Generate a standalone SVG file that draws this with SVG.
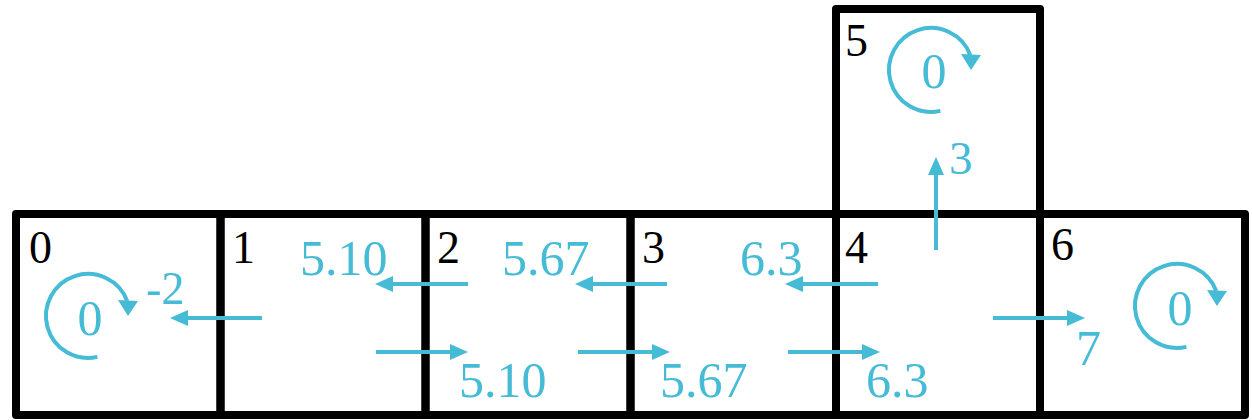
<svg xmlns="http://www.w3.org/2000/svg" width="1252" height="420" viewBox="0 0 1252 420">
<style>
.box{fill:none;stroke:#000;stroke-width:8;stroke-linejoin:round}
.num{font-family:"Liberation Serif",serif;font-size:46px;fill:#000}
.lbl{font-family:"Liberation Serif",serif;font-size:50px;fill:#45BBD6}
.ar{stroke:#45BBD6;stroke-width:4;fill:none;marker-end:url(#ah)}
.arc{stroke:#45BBD6;stroke-width:4;fill:none}
.hd{fill:#45BBD6}
</style>
<defs>
<marker id="ah" markerUnits="userSpaceOnUse" viewBox="0 0 18 16" refX="8" refY="8" markerWidth="18" markerHeight="16" orient="auto">
<path d="M0,0 L18,8 L0,16 Z" fill="#45BBD6"/>
</marker>
<g id="loop">
<path class="arc" d="M9.4,40.9 A42,42 0 1 1 39.2,-15"/>
<polygon class="hd" points="30,-16 50,-15 40,0"/>
</g>
</defs>
<rect width="1252" height="420" fill="#fff"/>
<g id="node0"><rect class="box" x="16" y="214" width="204.5" height="201"/><text class="num" x="29" y="263">0</text>
<use href="#loop" x="88" y="316"/><text class="lbl" x="90" y="335" text-anchor="middle">0</text></g>
<g id="node1"><rect class="box" x="220.5" y="214" width="205" height="201"/><text class="num" x="232" y="263">1</text></g>
<g id="node2"><rect class="box" x="425.5" y="214" width="205" height="201"/><text class="num" x="437" y="263">2</text></g>
<g id="node3"><rect class="box" x="630.5" y="214" width="205.5" height="201"/><text class="num" x="642" y="263">3</text></g>
<g id="node4"><rect class="box" x="836" y="214" width="204" height="201"/><text class="num" x="845" y="263">4</text></g>
<g id="node5"><rect class="box" x="836" y="9" width="204" height="205"/><text class="num" x="845" y="56">5</text>
<use href="#loop" x="931" y="70"/><text class="lbl" x="934" y="88" text-anchor="middle">0</text></g>
<g id="node6"><rect class="box" x="1040" y="214" width="205" height="201"/><text class="num" x="1051" y="260">6</text>
<use href="#loop" x="1177" y="306"/><text class="lbl" x="1180" y="325" text-anchor="middle">0</text></g>
<g id="connectors">
<line class="ar" x1="262" y1="318" x2="180" y2="318"/>
<line class="ar" x1="468" y1="284" x2="385" y2="284"/>
<line class="ar" x1="667" y1="284" x2="585" y2="284"/>
<line class="ar" x1="878" y1="284" x2="795" y2="284"/>
<line class="ar" x1="376" y1="352" x2="458" y2="352"/>
<line class="ar" x1="578" y1="352" x2="660" y2="352"/>
<line class="ar" x1="788" y1="352" x2="870" y2="352"/>
<line class="ar" x1="993" y1="318" x2="1075" y2="318"/>
<line class="ar" x1="936" y1="250" x2="936" y2="167"/>
<text class="lbl" x="146" y="304" style="font-size:46px">-2</text>
<text class="lbl" x="300" y="275">5.10</text>
<text class="lbl" x="502" y="275">5.67</text>
<text class="lbl" x="740" y="275">6.3</text>
<text class="lbl" x="459" y="397">5.10</text>
<text class="lbl" x="660" y="397">5.67</text>
<text class="lbl" x="866" y="397">6.3</text>
<text class="lbl" x="1076" y="365">7</text>
<text class="lbl" x="949" y="174" style="font-size:47px">3</text>
</g>
</svg>
